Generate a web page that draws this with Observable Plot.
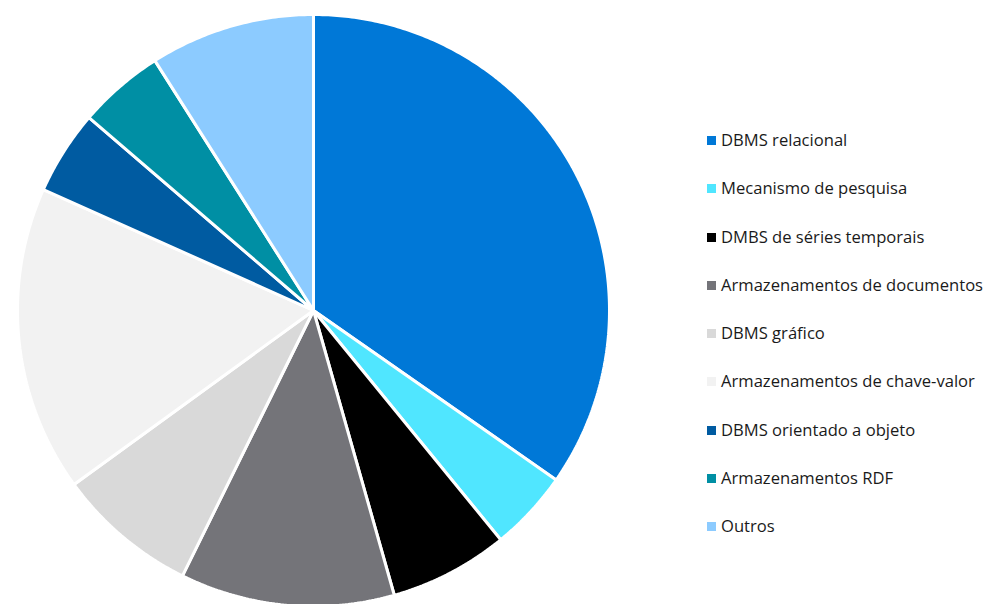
<!DOCTYPE html>
<html>
<head>
<meta charset="utf-8">
<script src="https://cdn.jsdelivr.net/npm/d3@7"></script>
<script src="https://cdn.jsdelivr.net/npm/@observablehq/plot@0.6"></script>
<style>
  html, body { margin: 0; padding: 0; background: #fff; }
  #wrap { position: relative; width: 996px; height: 604px; overflow: hidden; }
  #legend { position: absolute; left: 707px; top: 128px; font-family: "Open Sans", "Noto Sans", sans-serif; font-size: 16.6px; color: #1a1a1a; }
  .item { height: 48.3px; display: flex; align-items: flex-start; white-space: nowrap; }
  .sw { width: 9px; height: 9px; margin-top: 8px; margin-right: 5px; flex: none; }
</style>
</head>
<body>
<div id="wrap"><div id="chart"></div><div id="legend"></div></div>
<script>
const categories = [
  "DBMS relacional",
  "Mecanismo de pesquisa",
  "DMBS de séries temporais",
  "Armazenamentos de documentos",
  "DBMS gráfico",
  "Armazenamentos de chave-valor",
  "DBMS orientado a objeto",
  "Armazenamentos RDF",
  "Outros"
];
const values = [34.7, 4.4, 6.5, 11.7, 7.7, 16.7, 4.6, 4.7, 9.0];
const colors = ["#0078D7", "#50E6FF", "#000000", "#747479", "#D9D9D9", "#F2F2F2", "#005BA1", "#008FA4", "#8CCBFF"];

// build slice polygons in unit-circle data space from the values
const total = d3.sum(values);
const rows = [];
let acc = 0;
categories.forEach((name, i) => {
  const a0 = acc / total * 2 * Math.PI;
  acc += values[i];
  const a1 = acc / total * 2 * Math.PI;
  rows.push({name, x: 0, y: 0});
  const n = Math.max(2, Math.ceil((a1 - a0) / 0.01));
  for (let k = 0; k <= n; k++) {
    const a = a0 + (a1 - a0) * k / n;
    rows.push({name, x: Math.sin(a), y: Math.cos(a)});
  }
});

const chart = Plot.plot({
  width: 996,
  height: 604,
  margin: 0,
  x: {domain: [-1, 1], range: [17, 609], axis: null},
  y: {domain: [-1, 1], range: [606, 14], axis: null},
  color: {domain: categories, range: colors},
  marks: [
    Plot.line(rows, {x: "x", y: "y", z: "name", fill: "name", stroke: "white", strokeWidth: 3, strokeLinejoin: "miter", curve: "linear-closed"})
  ]
});
document.getElementById("chart").appendChild(chart);

const legend = document.getElementById("legend");
categories.forEach((name, i) => {
  const it = document.createElement("div");
  it.className = "item";
  const sw = document.createElement("span");
  sw.className = "sw";
  sw.style.background = colors[i];
  const t = document.createElement("span");
  t.textContent = name;
  it.appendChild(sw); it.appendChild(t);
  legend.appendChild(it);
});
</script>
</body>
</html>
